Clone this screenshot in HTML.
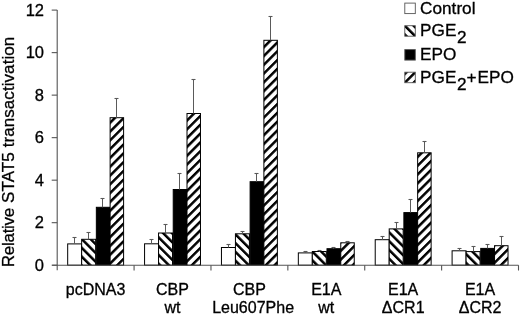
<!DOCTYPE html><html><head><meta charset="utf-8"><style>html,body{margin:0;padding:0;background:#fff;width:520px;height:314px;overflow:hidden}svg{display:block}text{font-family:"Liberation Sans",Arial,sans-serif;fill:#000;stroke:#000;stroke-width:0.3px}</style></head><body>
<svg width="520" height="314" viewBox="0 0 520 314">
<defs>
<pattern id="h01" patternUnits="userSpaceOnUse" width="6.223" height="6.223" patternTransform="rotate(-45) translate(-112.499,0)"><rect width="6.223" height="6.223" fill="#fff"/><rect width="2.489" height="6.223" fill="#000"/></pattern>
<pattern id="h03" patternUnits="userSpaceOnUse" width="6.223" height="6.223" patternTransform="rotate(45) translate(163.384,0)"><rect width="6.223" height="6.223" fill="#fff"/><rect width="2.489" height="6.223" fill="#000"/></pattern>
<pattern id="h11" patternUnits="userSpaceOnUse" width="6.223" height="6.223" patternTransform="rotate(-45) translate(-56.932,0)"><rect width="6.223" height="6.223" fill="#fff"/><rect width="2.489" height="6.223" fill="#000"/></pattern>
<pattern id="h13" patternUnits="userSpaceOnUse" width="6.223" height="6.223" patternTransform="rotate(45) translate(216.194,0)"><rect width="6.223" height="6.223" fill="#fff"/><rect width="2.489" height="6.223" fill="#000"/></pattern>
<pattern id="h21" patternUnits="userSpaceOnUse" width="6.223" height="6.223" patternTransform="rotate(-45) translate(-0.446,0)"><rect width="6.223" height="6.223" fill="#fff"/><rect width="2.489" height="6.223" fill="#000"/></pattern>
<pattern id="h23" patternUnits="userSpaceOnUse" width="6.223" height="6.223" patternTransform="rotate(45) translate(218.657,0)"><rect width="6.223" height="6.223" fill="#fff"/><rect width="2.489" height="6.223" fill="#000"/></pattern>
<pattern id="h31" patternUnits="userSpaceOnUse" width="6.223" height="6.223" patternTransform="rotate(-45) translate(41.757,0)"><rect width="6.223" height="6.223" fill="#fff"/><rect width="2.489" height="6.223" fill="#000"/></pattern>
<pattern id="h33" patternUnits="userSpaceOnUse" width="6.223" height="6.223" patternTransform="rotate(45) translate(417.059,0)"><rect width="6.223" height="6.223" fill="#fff"/><rect width="2.489" height="6.223" fill="#000"/></pattern>
<pattern id="h41" patternUnits="userSpaceOnUse" width="6.223" height="6.223" patternTransform="rotate(-45) translate(109.627,0)"><rect width="6.223" height="6.223" fill="#fff"/><rect width="2.489" height="6.223" fill="#000"/></pattern>
<pattern id="h43" patternUnits="userSpaceOnUse" width="6.223" height="6.223" patternTransform="rotate(45) translate(405.026,0)"><rect width="6.223" height="6.223" fill="#fff"/><rect width="2.489" height="6.223" fill="#000"/></pattern>
<pattern id="h51" patternUnits="userSpaceOnUse" width="6.223" height="6.223" patternTransform="rotate(-45) translate(148.648,0)"><rect width="6.223" height="6.223" fill="#fff"/><rect width="2.489" height="6.223" fill="#000"/></pattern>
<pattern id="h53" patternUnits="userSpaceOnUse" width="6.223" height="6.223" patternTransform="rotate(45) translate(528.051,0)"><rect width="6.223" height="6.223" fill="#fff"/><rect width="2.489" height="6.223" fill="#000"/></pattern>
<pattern id="lg1" patternUnits="userSpaceOnUse" width="6.223" height="6.223" patternTransform="rotate(-45) translate(266.820,0)"><rect width="6.223" height="6.223" fill="#fff"/><rect width="2.489" height="6.223" fill="#000"/></pattern>
<pattern id="lg3" patternUnits="userSpaceOnUse" width="6.223" height="6.223" patternTransform="rotate(45) translate(343.470,0)"><rect width="6.223" height="6.223" fill="#fff"/><rect width="2.489" height="6.223" fill="#000"/></pattern>
</defs>
<rect x="67.68" y="243.90" width="13.98" height="21.30" fill="#fff" stroke="#000" stroke-width="1"/>
<line x1="74.50" y1="243.90" x2="74.50" y2="237.50" stroke="#5a5a5a" stroke-width="1"/>
<line x1="72.50" y1="237.50" x2="76.50" y2="237.50" stroke="#5a5a5a" stroke-width="1.1"/>
<rect x="81.66" y="239.30" width="13.98" height="25.90" fill="url(#h01)" stroke="#000" stroke-width="1"/>
<line x1="88.50" y1="239.30" x2="88.50" y2="232.50" stroke="#5a5a5a" stroke-width="1"/>
<line x1="86.50" y1="232.50" x2="90.50" y2="232.50" stroke="#5a5a5a" stroke-width="1.1"/>
<rect x="96.34" y="207.30" width="13.78" height="57.90" fill="#000" stroke="#000" stroke-width="1"/>
<line x1="102.50" y1="207.30" x2="102.50" y2="198.50" stroke="#5a5a5a" stroke-width="1"/>
<line x1="100.50" y1="198.50" x2="104.50" y2="198.50" stroke="#5a5a5a" stroke-width="1.1"/>
<rect x="110.12" y="117.70" width="13.48" height="147.50" fill="url(#h03)" stroke="#000" stroke-width="1"/>
<line x1="116.50" y1="117.70" x2="116.50" y2="98.50" stroke="#5a5a5a" stroke-width="1"/>
<line x1="114.50" y1="98.50" x2="118.50" y2="98.50" stroke="#5a5a5a" stroke-width="1.1"/>
<rect x="144.57" y="243.80" width="13.98" height="21.40" fill="#fff" stroke="#000" stroke-width="1"/>
<line x1="151.50" y1="243.80" x2="151.50" y2="239.50" stroke="#5a5a5a" stroke-width="1"/>
<line x1="149.50" y1="239.50" x2="153.50" y2="239.50" stroke="#5a5a5a" stroke-width="1.1"/>
<rect x="158.55" y="233.00" width="13.98" height="32.20" fill="url(#h11)" stroke="#000" stroke-width="1"/>
<line x1="165.50" y1="233.00" x2="165.50" y2="224.50" stroke="#5a5a5a" stroke-width="1"/>
<line x1="163.50" y1="224.50" x2="167.50" y2="224.50" stroke="#5a5a5a" stroke-width="1.1"/>
<rect x="173.22" y="189.50" width="13.78" height="75.70" fill="#000" stroke="#000" stroke-width="1"/>
<line x1="179.50" y1="189.50" x2="179.50" y2="173.50" stroke="#5a5a5a" stroke-width="1"/>
<line x1="177.50" y1="173.50" x2="181.50" y2="173.50" stroke="#5a5a5a" stroke-width="1.1"/>
<rect x="187.00" y="113.50" width="13.48" height="151.70" fill="url(#h13)" stroke="#000" stroke-width="1"/>
<line x1="193.50" y1="113.50" x2="193.50" y2="79.50" stroke="#5a5a5a" stroke-width="1"/>
<line x1="191.50" y1="79.50" x2="195.50" y2="79.50" stroke="#5a5a5a" stroke-width="1.1"/>
<rect x="221.45" y="247.50" width="13.98" height="17.70" fill="#fff" stroke="#000" stroke-width="1"/>
<line x1="228.50" y1="247.50" x2="228.50" y2="244.50" stroke="#5a5a5a" stroke-width="1"/>
<line x1="226.50" y1="244.50" x2="230.50" y2="244.50" stroke="#5a5a5a" stroke-width="1.1"/>
<rect x="235.43" y="233.80" width="13.98" height="31.40" fill="url(#h21)" stroke="#000" stroke-width="1"/>
<line x1="242.50" y1="233.80" x2="242.50" y2="231.50" stroke="#5a5a5a" stroke-width="1"/>
<line x1="240.50" y1="231.50" x2="244.50" y2="231.50" stroke="#5a5a5a" stroke-width="1.1"/>
<rect x="250.11" y="181.70" width="13.78" height="83.50" fill="#000" stroke="#000" stroke-width="1"/>
<line x1="256.50" y1="181.70" x2="256.50" y2="173.50" stroke="#5a5a5a" stroke-width="1"/>
<line x1="254.50" y1="173.50" x2="258.50" y2="173.50" stroke="#5a5a5a" stroke-width="1.1"/>
<rect x="263.89" y="40.30" width="13.48" height="224.90" fill="url(#h23)" stroke="#000" stroke-width="1"/>
<line x1="270.50" y1="40.30" x2="270.50" y2="16.50" stroke="#5a5a5a" stroke-width="1"/>
<line x1="268.50" y1="16.50" x2="272.50" y2="16.50" stroke="#5a5a5a" stroke-width="1.1"/>
<rect x="298.33" y="252.90" width="13.98" height="12.30" fill="#fff" stroke="#000" stroke-width="1"/>
<line x1="305.50" y1="252.90" x2="305.50" y2="251.50" stroke="#5a5a5a" stroke-width="1"/>
<line x1="303.50" y1="251.50" x2="307.50" y2="251.50" stroke="#5a5a5a" stroke-width="1.1"/>
<rect x="312.31" y="251.50" width="13.98" height="13.70" fill="url(#h31)" stroke="#000" stroke-width="1"/>
<line x1="319.50" y1="251.50" x2="319.50" y2="250.50" stroke="#5a5a5a" stroke-width="1"/>
<line x1="317.50" y1="250.50" x2="321.50" y2="250.50" stroke="#5a5a5a" stroke-width="1.1"/>
<rect x="326.99" y="248.70" width="13.78" height="16.50" fill="#000" stroke="#000" stroke-width="1"/>
<line x1="333.50" y1="248.70" x2="333.50" y2="247.50" stroke="#5a5a5a" stroke-width="1"/>
<line x1="331.50" y1="247.50" x2="335.50" y2="247.50" stroke="#5a5a5a" stroke-width="1.1"/>
<rect x="340.77" y="242.80" width="13.48" height="22.40" fill="url(#h33)" stroke="#000" stroke-width="1"/>
<line x1="347.50" y1="242.80" x2="347.50" y2="241.50" stroke="#5a5a5a" stroke-width="1"/>
<line x1="345.50" y1="241.50" x2="349.50" y2="241.50" stroke="#5a5a5a" stroke-width="1.1"/>
<rect x="375.22" y="239.70" width="13.98" height="25.50" fill="#fff" stroke="#000" stroke-width="1"/>
<line x1="382.50" y1="239.70" x2="382.50" y2="236.50" stroke="#5a5a5a" stroke-width="1"/>
<line x1="380.50" y1="236.50" x2="384.50" y2="236.50" stroke="#5a5a5a" stroke-width="1.1"/>
<rect x="389.20" y="228.90" width="13.98" height="36.30" fill="url(#h41)" stroke="#000" stroke-width="1"/>
<line x1="396.50" y1="228.90" x2="396.50" y2="222.50" stroke="#5a5a5a" stroke-width="1"/>
<line x1="394.50" y1="222.50" x2="398.50" y2="222.50" stroke="#5a5a5a" stroke-width="1.1"/>
<rect x="403.88" y="212.60" width="13.78" height="52.60" fill="#000" stroke="#000" stroke-width="1"/>
<line x1="410.50" y1="212.60" x2="410.50" y2="199.50" stroke="#5a5a5a" stroke-width="1"/>
<line x1="408.50" y1="199.50" x2="412.50" y2="199.50" stroke="#5a5a5a" stroke-width="1.1"/>
<rect x="417.65" y="152.80" width="13.48" height="112.40" fill="url(#h43)" stroke="#000" stroke-width="1"/>
<line x1="424.50" y1="152.80" x2="424.50" y2="141.50" stroke="#5a5a5a" stroke-width="1"/>
<line x1="422.50" y1="141.50" x2="426.50" y2="141.50" stroke="#5a5a5a" stroke-width="1.1"/>
<rect x="452.10" y="250.80" width="13.98" height="14.40" fill="#fff" stroke="#000" stroke-width="1"/>
<line x1="459.50" y1="250.80" x2="459.50" y2="248.50" stroke="#5a5a5a" stroke-width="1"/>
<line x1="457.50" y1="248.50" x2="461.50" y2="248.50" stroke="#5a5a5a" stroke-width="1.1"/>
<rect x="466.08" y="251.60" width="13.98" height="13.60" fill="url(#h51)" stroke="#000" stroke-width="1"/>
<line x1="473.50" y1="251.60" x2="473.50" y2="246.50" stroke="#5a5a5a" stroke-width="1"/>
<line x1="471.50" y1="246.50" x2="475.50" y2="246.50" stroke="#5a5a5a" stroke-width="1.1"/>
<rect x="480.76" y="248.40" width="13.78" height="16.80" fill="#000" stroke="#000" stroke-width="1"/>
<line x1="487.50" y1="248.40" x2="487.50" y2="244.50" stroke="#5a5a5a" stroke-width="1"/>
<line x1="485.50" y1="244.50" x2="489.50" y2="244.50" stroke="#5a5a5a" stroke-width="1.1"/>
<rect x="494.54" y="245.70" width="13.48" height="19.50" fill="url(#h53)" stroke="#000" stroke-width="1"/>
<line x1="501.50" y1="245.70" x2="501.50" y2="236.50" stroke="#5a5a5a" stroke-width="1"/>
<line x1="499.50" y1="236.50" x2="503.50" y2="236.50" stroke="#5a5a5a" stroke-width="1.1"/>
<line x1="57.2" y1="10.1" x2="57.2" y2="270.2" stroke="#555" stroke-width="1.1"/>
<line x1="52.2" y1="265.2" x2="518.5" y2="265.2" stroke="#555" stroke-width="1.1"/>
<line x1="51.7" y1="265.20" x2="57.2" y2="265.20" stroke="#555" stroke-width="1.1"/>
<text x="44" y="270.70" font-size="16.5" text-anchor="end">0</text>
<line x1="51.7" y1="222.68" x2="57.2" y2="222.68" stroke="#555" stroke-width="1.1"/>
<text x="44" y="228.18" font-size="16.5" text-anchor="end">2</text>
<line x1="51.7" y1="180.17" x2="57.2" y2="180.17" stroke="#555" stroke-width="1.1"/>
<text x="44" y="185.67" font-size="16.5" text-anchor="end">4</text>
<line x1="51.7" y1="137.65" x2="57.2" y2="137.65" stroke="#555" stroke-width="1.1"/>
<text x="44" y="143.15" font-size="16.5" text-anchor="end">6</text>
<line x1="51.7" y1="95.13" x2="57.2" y2="95.13" stroke="#555" stroke-width="1.1"/>
<text x="44" y="100.63" font-size="16.5" text-anchor="end">8</text>
<line x1="51.7" y1="52.62" x2="57.2" y2="52.62" stroke="#555" stroke-width="1.1"/>
<text x="44" y="58.12" font-size="16.5" text-anchor="end">10</text>
<line x1="51.7" y1="10.10" x2="57.2" y2="10.10" stroke="#555" stroke-width="1.1"/>
<text x="44" y="15.60" font-size="16.5" text-anchor="end">12</text>
<line x1="134.08" y1="265.2" x2="134.08" y2="270.50" stroke="#555" stroke-width="1.1"/>
<line x1="210.97" y1="265.2" x2="210.97" y2="270.50" stroke="#555" stroke-width="1.1"/>
<line x1="287.85" y1="265.2" x2="287.85" y2="270.50" stroke="#555" stroke-width="1.1"/>
<line x1="364.73" y1="265.2" x2="364.73" y2="270.50" stroke="#555" stroke-width="1.1"/>
<line x1="441.62" y1="265.2" x2="441.62" y2="270.50" stroke="#555" stroke-width="1.1"/>
<line x1="518.50" y1="265.2" x2="518.50" y2="270.50" stroke="#555" stroke-width="1.1"/>
<text x="95.64" y="294.7" font-size="16" text-anchor="middle">pcDNA3</text>
<text x="172.53" y="294.7" font-size="16" text-anchor="middle">CBP</text>
<text x="172.53" y="313.1" font-size="16" text-anchor="middle">wt</text>
<text x="249.41" y="294.7" font-size="16" text-anchor="middle">CBP</text>
<text x="253.11" y="313.1" font-size="16" text-anchor="middle">Leu607Phe</text>
<text x="326.29" y="294.7" font-size="16" text-anchor="middle">E1A</text>
<text x="326.29" y="313.1" font-size="16" text-anchor="middle">wt</text>
<text x="403.18" y="294.7" font-size="16" text-anchor="middle">E1A</text>
<text x="403.18" y="313.1" font-size="16" text-anchor="middle">ΔCR1</text>
<text x="480.06" y="294.7" font-size="16" text-anchor="middle">E1A</text>
<text x="480.06" y="313.1" font-size="16" text-anchor="middle">ΔCR2</text>
<text transform="translate(14.2,0) rotate(-90)" font-size="17"><tspan x="-267.20" textLength="59.50" lengthAdjust="spacing">Relative</tspan> <tspan x="-202.90" textLength="166.20" lengthAdjust="spacing">STAT5 transactivation</tspan></text>
<rect x="404.8" y="3.10" width="10.5" height="10.5" fill="#fff" stroke="#555" stroke-width="0.9"/>
<rect x="404.8" y="25.70" width="10.5" height="10.5" fill="url(#lg1)" stroke="#555" stroke-width="0.9"/>
<rect x="404.8" y="49.60" width="10.5" height="10.5" fill="#000" stroke="#555" stroke-width="0.9"/>
<rect x="404.8" y="72.20" width="10.5" height="10.5" fill="url(#lg3)" stroke="#555" stroke-width="0.9"/>
<text x="420.1" y="13.8" font-size="17.2">Control</text>
<text x="420.1" y="36.0" font-size="17.2">PGE<tspan x="457.1" dy="7">2</tspan></text>
<text x="420.1" y="59.9" font-size="17.2">EPO</text>
<text x="420.1" y="82.5" font-size="17.2">PGE<tspan x="457.1" dy="7">2</tspan><tspan x="466.4" dy="-7">+</tspan><tspan x="477.6">EPO</tspan></text>
</svg></body></html>
